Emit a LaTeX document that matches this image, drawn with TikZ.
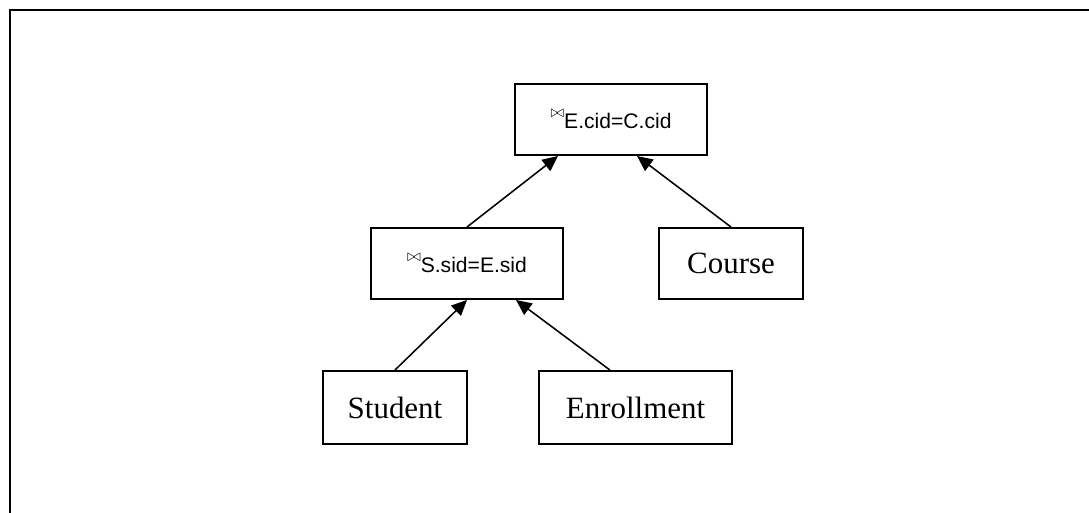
\documentclass[tikz,border=0pt]{standalone}
\usepackage{fontspec}
\setmainfont{Liberation Serif}
\setsansfont{Liberation Sans}
\usetikzlibrary{arrows.meta}
\tikzset{
	relbox/.style={draw, line width=1.4pt, inner sep=0pt, font=\fontsize{22}{26}\selectfont},
	joinbox/.style={relbox, font=\sffamily\fontsize{15}{18}\selectfont},
	uparrow/.style={line width=1.1pt, -{Triangle[length=11pt, width=10pt]}}
}
\newcommand{\joinsym}{\raisebox{1.0ex}{\fontsize{13}{14}\selectfont$\bowtie$}}

\begin{document}
\begin{tikzpicture}[x=0.025cm, y=-0.025cm]
			%%%%% START %%%%%
			
			\clip (0, 0) rectangle (1089, 512);
			\draw[line width=1.6pt] (10, 530) -- (10, 10) -- (1100, 10);
			
			\node[joinbox, minimum width=4.8cm, minimum height=1.775cm] (ecjoin) at (611, 119.5) {\joinsym E.cid=C.cid};
			\node[joinbox, minimum width=4.8cm, minimum height=1.775cm] (sejoin) at (467, 263.5) {\joinsym S.sid=E.sid};
			\node[relbox, minimum width=3.6cm, minimum height=1.775cm] (course) at (731, 263.5) {Course};
			\node[relbox, minimum width=3.6cm, minimum height=1.825cm] (student) at (395, 407.5) {Student};
			\node[relbox, minimum width=4.825cm, minimum height=1.825cm] (enroll) at (635.5, 407.5) {Enrollment};
			
			\draw[uparrow] (student.north) -- (sejoin.south);
			\draw[uparrow] ([xshift=-0.64cm]enroll.north) -- ([xshift=1.225cm]sejoin.south);
			\draw[uparrow] (sejoin.north) -- ([xshift=-1.325cm]ecjoin.south);
			\draw[uparrow] (course.north) -- ([xshift=0.65cm]ecjoin.south);
			
			%%%%% END %%%%%
\end{tikzpicture}
\end{document}
